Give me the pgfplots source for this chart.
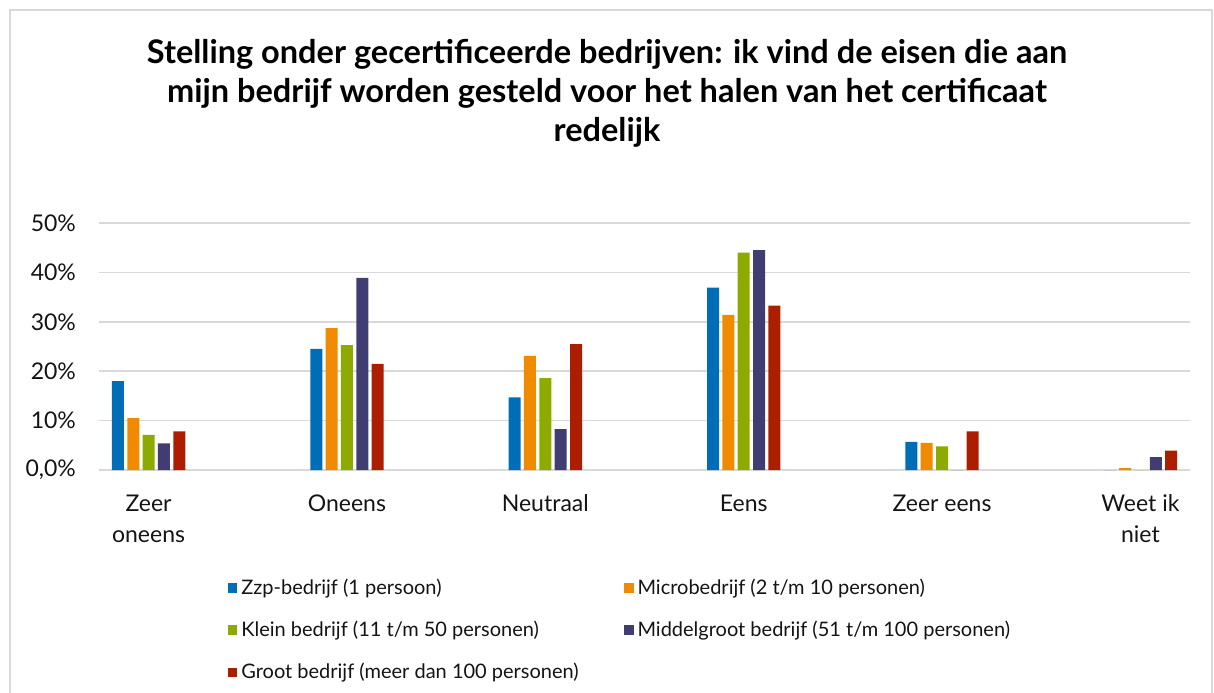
\documentclass[border=0pt]{standalone}
\usepackage{pgfplots}
\pgfplotsset{compat=1.18}
\usepackage{fontspec}
\setmainfont{Lato}
\definecolor{cblue}{RGB}{0,110,182}
\definecolor{corange}{RGB}{240,138,0}
\definecolor{cgreen}{RGB}{140,170,0}
\definecolor{cnavy}{RGB}{64,61,115}
\definecolor{cred}{RGB}{172,30,0}
\definecolor{gridgray}{RGB}{217,217,217}
\definecolor{txt}{RGB}{20,20,20}
\begin{document}
\begin{tikzpicture}
\useasboundingbox (0pt,0pt) rectangle (607pt,-346pt);
\draw[gridgray, line width=0.8pt] (5pt,-352pt) -- (5pt,-5pt) -- (606pt,-5pt) -- (606pt,-352pt);
\node[align=center, font=\fontsize{16.25}{19.5}\selectfont\bfseries, anchor=north, text=black] at (303.5pt,-16pt)
 {Stelling onder gecertificeerde bedrijven: ik vind de eisen die aan\\mijn bedrijf worden gesteld voor het halen van het certificaat\\redelijk};
\begin{axis}[
  at={(49.5pt,-235pt)}, anchor=south west,
  scale only axis, width=545.5pt, height=123.5pt,
  ymin=0, ymax=50,
  ytick={0,10,20,30,40,50},
  yticklabels={0{,}0\%,10\%,20\%,30\%,40\%,50\%},
  xmin=-0.25, xmax=5.25,
  xtick={0,1,2,3,4,5},
  xticklabels={{Zeer\\oneens},Oneens,Neutraal,Eens,{Zeer eens},{Weet ik\\niet}},
  ybar=1.67pt, bar width=6pt,
  axis line style={draw=none},
  tick style={draw=none},
  ymajorgrids,
  major grid style={draw=gridgray, line width=0.8pt},
  /pgf/number format/assume math mode=true,
  yticklabel style={font=\fontsize{11.5}{13}\selectfont, text=txt, xshift=-8pt},
  xticklabel style={font=\fontsize{11.5}{15.5}\selectfont, text=txt, align=center, yshift=-4.5pt},
  legend columns=2,
  legend cell align=left,
  legend style={at={(0.118,-0.422)}, anchor=north west, draw=none, fill=none, inner sep=0pt,
    font=\fontsize{10}{12}\selectfont, text=txt, row sep=7.8pt,
    /tikz/every even column/.append style={column sep=0pt}},
  legend image code/.code={\fill[#1] (0pt,-2.3pt) rectangle (4.6pt,2.3pt);},
  every axis plot/.append style={draw=none},
]
\addplot[fill=cblue] coordinates {(0,18.0) (1,24.5) (2,14.7) (3,36.9) (4,5.7) (5,0)};
\addplot[fill=corange] coordinates {(0,10.5) (1,28.7) (2,23.1) (3,31.4) (4,5.5) (5,0.4)};
\addplot[fill=cgreen] coordinates {(0,7.1) (1,25.3) (2,18.6) (3,44.0) (4,4.8) (5,0)};
\addplot[fill=cnavy] coordinates {(0,5.4) (1,38.9) (2,8.3) (3,44.5) (4,0) (5,2.6)};
\addplot[fill=cred] coordinates {(0,7.8) (1,21.5) (2,25.5) (3,33.3) (4,7.8) (5,3.9)};
\legend{\makebox[189.5pt][l]{Zzp-bedrijf (1 persoon)},Microbedrijf (2 t/m 10 personen),\makebox[189.5pt][l]{Klein bedrijf (11 t/m 50 personen)},Middelgroot bedrijf (51 t/m 100 personen),Groot bedrijf (meer dan 100 personen)}
\end{axis}
\end{tikzpicture}
\end{document}
